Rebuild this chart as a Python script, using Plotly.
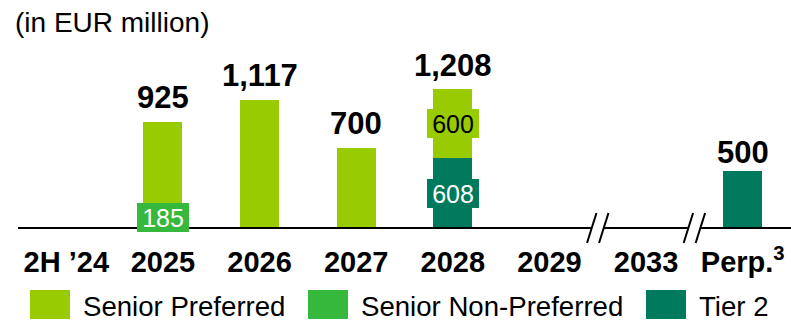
import plotly.graph_objects as go

# Maturity profile, EUR million
categories = ["2H ’24", "2025", "2026", "2027", "2028", "2029", "2033", "Perp.<sup>3</sup>"]
senior_preferred = [0, 740, 1117, 700, 600, 0, 0, 0]
senior_non_preferred = [0, 185, 0, 0, 0, 0, 0, 0]
tier2 = [0, 0, 0, 0, 608, 0, 0, 500]

# segments that carry an inline value box
segment_labels = [("Senior Non-Preferred", 1), ("Senior Preferred", 4), ("Tier 2", 4)]

FONT = "Liberation Sans, Arial, sans-serif"
C_SP = "#99CC00"
C_SNP = "#36B83C"
C_T2 = "#007A5C"

W, H = 791, 332
ML, MR, MT, MB = 18, 0, 40, 104
PW, PH = W - ML - MR, H - MT - MB
YMAX = PH / 0.1147
N = len(categories)


def px_x(px):
    return (px - ML) / PW


def px_y(py):
    return (H - MB - py) / PH


def cat_x(c):
    # category position -> paper x (axis range is -0.5 .. N-0.5)
    return (c + 0.5) / N


x = list(range(N))

# stacking order, bottom to top
series = [
    ("Senior Non-Preferred", senior_non_preferred, C_SNP, "white"),
    ("Tier 2", tier2, C_T2, "white"),
    ("Senior Preferred", senior_preferred, C_SP, "black"),
]

fig = go.Figure()
for name, vals, color, _ in series:
    fig.add_trace(go.Bar(
        x=x, y=vals, name=name, width=0.404,
        marker=dict(color=color, line=dict(width=0)),
        showlegend=False, hoverinfo="skip",
    ))

annotations = []

# totals above the stacks
totals = [sum(v) for v in zip(senior_preferred, senior_non_preferred, tier2)]
total_gap = {7: 6}
for i, t in enumerate(totals):
    if t > 0:
        annotations.append(dict(
            x=i, y=t, xref="x", yref="y", text=f"{t:,}", showarrow=False,
            xanchor="center", yanchor="middle", yshift=total_gap.get(i, 12) + 12,
            font=dict(family=FONT, size=31, color="black", weight="bold"),
        ))

# inline value boxes centred on their segments
bases = [0] * N
seg_info = {}
for name, vals, color, tcolor in series:
    for i, v in enumerate(vals):
        seg_info[(name, i)] = (bases[i] + v / 2, v, color, tcolor)
        bases[i] += v
for name, i in segment_labels:
    mid, v, color, tcolor = seg_info[(name, i)]
    annotations.append(dict(
        x=i, y=mid, xref="x", yref="y", text=str(v), showarrow=False,
        xanchor="center", yanchor="middle", width=52, height=29,
        bgcolor=color, borderpad=0, borderwidth=0,
        font=dict(family=FONT, size=25, color=tcolor),
    ))

# unit note
annotations.append(dict(
    x=px_x(13), y=px_y(22), xref="paper", yref="paper", text="(in EUR million)",
    showarrow=False, xanchor="left", yanchor="middle",
    font=dict(family=FONT, size=28, color="black"),
))

shapes = []
# baseline
shapes.append(dict(type="line", xref="paper", yref="paper", x0=0, x1=1, y0=0, y1=0,
                   line=dict(color="black", width=2), layer="above"))
# axis breaks between 2029 / 2033 / Perp.
for b in (5.5, 6.5):
    bx = cat_x(b)
    shapes.append(dict(type="rect", xref="paper", yref="paper", xsizemode="pixel", ysizemode="pixel",
                       xanchor=bx, yanchor=0, x0=-6, x1=6, y0=-3, y1=3,
                       fillcolor="white", line=dict(width=0), layer="above"))
    for dx in (-6, 6):
        shapes.append(dict(type="line", xref="paper", yref="paper", xsizemode="pixel", ysizemode="pixel",
                           xanchor=bx, yanchor=0, x0=dx - 4.7, x1=dx + 4.7, y0=-15, y1=15,
                           line=dict(color="black", width=2), layer="above"))

# legend
legend_items = [("Senior Preferred", C_SP, 30), ("Senior Non-Preferred", C_SNP, 308), ("Tier 2", C_T2, 646)]
for name, color, x0 in legend_items:
    shapes.append(dict(type="rect", xref="paper", yref="paper",
                       x0=px_x(x0), x1=px_x(x0 + 40), y0=px_y(319), y1=px_y(290),
                       fillcolor=color, line=dict(width=0)))
    annotations.append(dict(
        x=px_x(x0 + 51), y=px_y(306), xref="paper", yref="paper", text=name,
        showarrow=False, xanchor="left", yanchor="middle",
        font=dict(family=FONT, size=27.6, color="black"),
    ))

fig.update_layout(
    width=W, height=H,
    margin=dict(l=ML, r=MR, t=MT, b=MB, pad=0),
    paper_bgcolor="white", plot_bgcolor="white",
    barmode="stack",
    showlegend=False,
    xaxis=dict(
        range=[-0.5, N - 0.5], tickvals=x, ticktext=categories,
        showgrid=False, zeroline=False, showline=False, ticks="",
        ticklabelstandoff=14,
        tickfont=dict(family=FONT, size=29, color="black", weight="bold"),
        fixedrange=True,
    ),
    yaxis=dict(range=[0, YMAX], visible=False, fixedrange=True),
    annotations=annotations,
    shapes=shapes,
)

fig.write_html("out.html", config={"displayModeBar": False})
